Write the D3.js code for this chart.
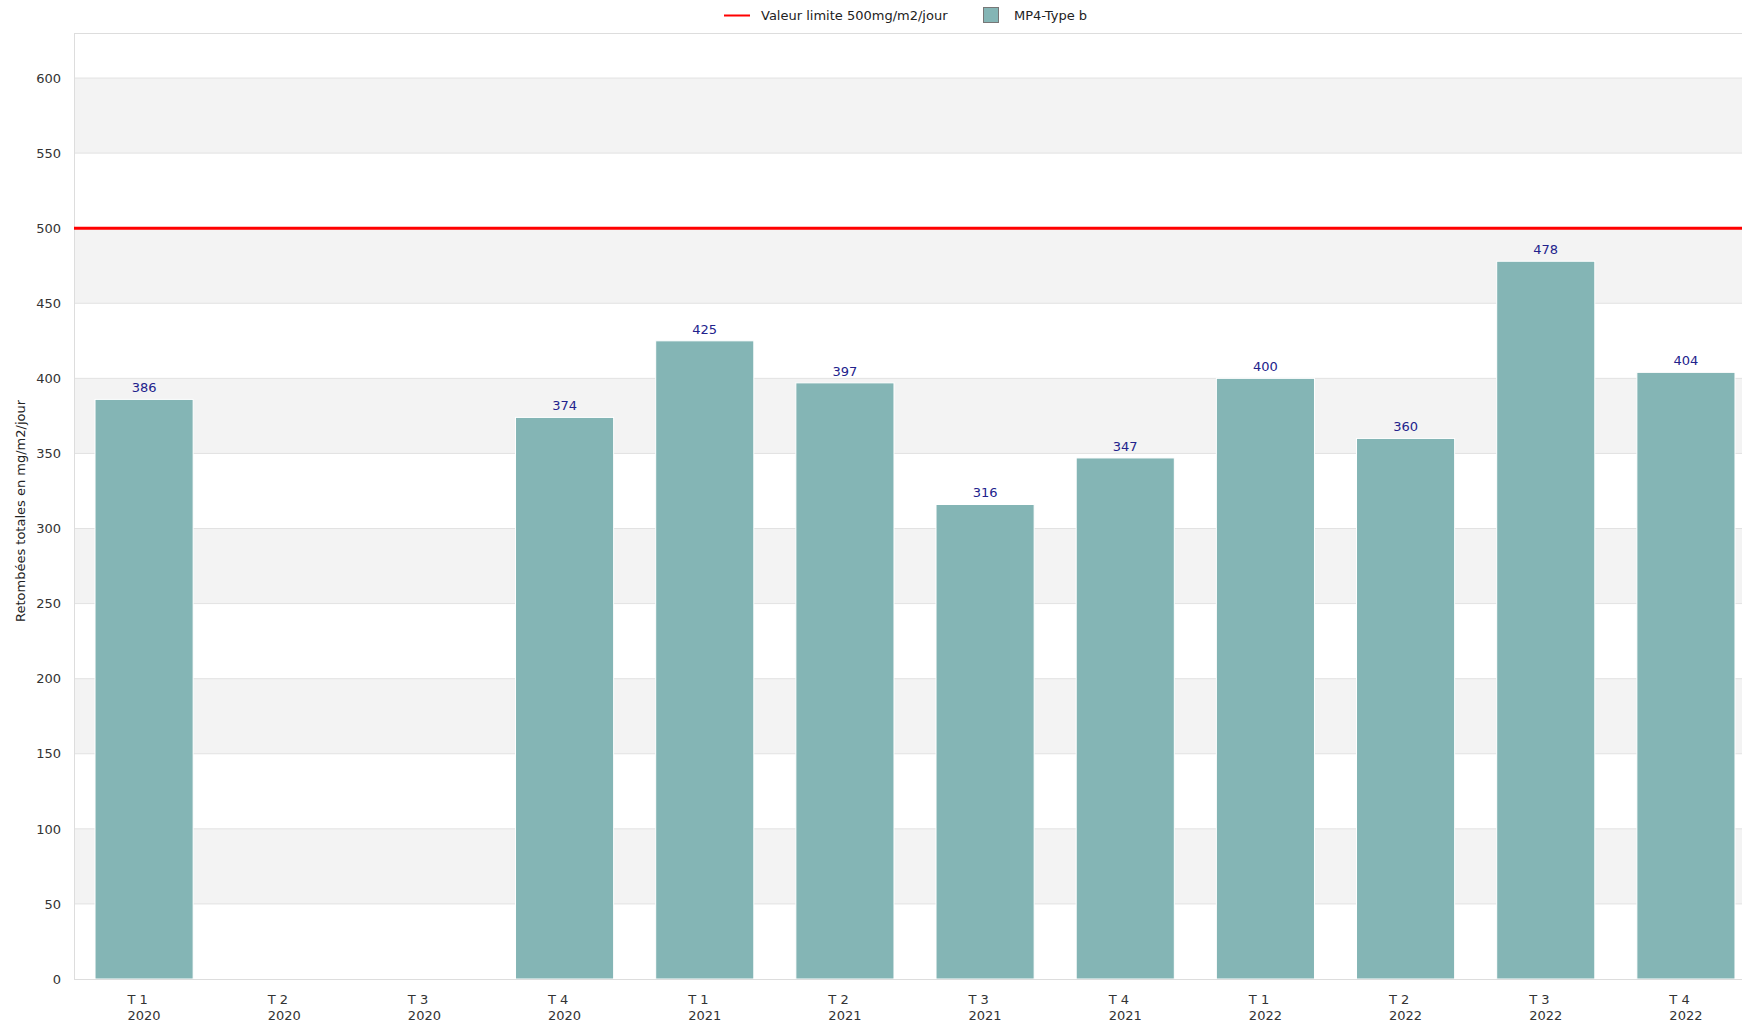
<!DOCTYPE html>
<html>
<head>
<meta charset="utf-8">
<title>Retombées totales</title>
<script src="https://d3js.org/d3.v7.min.js"></script>
<style>
  * { margin: 0; padding: 0; }
  body { background: #fff; font-family: 'DejaVu Sans', sans-serif; }
  svg { display: block; }
</style>
</head>
<body>
<div id="chart"></div>
<script>
// data
const quarters = ["T 1", "T 2", "T 3", "T 4", "T 1", "T 2", "T 3", "T 4", "T 1", "T 2", "T 3", "T 4"];
const years = ["2020", "2020", "2020", "2020", "2021", "2021", "2021", "2021", "2022", "2022", "2022", "2022"];
const mp4Values = [386, null, null, 374, 425, 397, 316, 347, 400, 360, 478, 404];
const limitValue = 500;
const yTicks = [0, 50, 100, 150, 200, 250, 300, 350, 400, 450, 500, 550, 600];
const seriesName = "MP4-Type b";
const limitName = "Valeur limite 500mg/m2/jour";

const W = 1742, H = 1022;
const plotLeft = 74, plotTop = 33, plotBottom = 979;
const plotRight = 1756; // plot runs past the window edge

const keys = quarters.map((q, i) => i);

const svg = d3.select("#chart").append("svg")
  .attr("width", W)
  .attr("height", H);

const x = d3.scaleBand()
  .domain(keys)
  .range([plotLeft, plotRight])
  .paddingInner(0.3)
  .paddingOuter(0.15);

const y = d3.scaleLinear()
  .domain([0, 630])
  .range([plotBottom, plotTop]);

// alternating bands
const bands = d3.range(50, 650, 100); // 50-100, 150-200, ...
svg.append("g").selectAll("rect")
  .data(bands)
  .enter()
  .append("rect")
  .attr("x", plotLeft)
  .attr("width", W - plotLeft)
  .attr("y", d => y(d + 50))
  .attr("height", d => y(d) - y(d + 50))
  .attr("fill", "#f3f3f3");

// grid lines
svg.append("g").selectAll("line")
  .data(yTicks.filter(d => d > 0))
  .enter()
  .append("line")
  .attr("x1", plotLeft)
  .attr("x2", W)
  .attr("y1", d => y(d))
  .attr("y2", d => y(d))
  .attr("stroke", "#e2e2e2")
  .attr("stroke-width", 1);

// frame top + left
svg.append("line")
  .attr("x1", plotLeft).attr("x2", W)
  .attr("y1", plotTop + 0.5).attr("y2", plotTop + 0.5)
  .attr("stroke", "#dddddd");
svg.append("line")
  .attr("x1", plotLeft + 0.5).attr("x2", plotLeft + 0.5)
  .attr("y1", plotTop).attr("y2", plotBottom)
  .attr("stroke", "#dddddd");

// bars
const barData = keys.filter(i => mp4Values[i] != null);
svg.append("g").selectAll("rect")
  .data(barData)
  .enter()
  .append("rect")
  .attr("x", i => x(i))
  .attr("width", x.bandwidth())
  .attr("y", i => y(mp4Values[i]))
  .attr("height", i => y(0) - y(mp4Values[i]))
  .attr("fill", "#84b5b5")
  .attr("stroke", "#ffffff")
  .attr("stroke-width", 1);

// value labels
svg.append("g").selectAll("text")
  .data(barData)
  .enter()
  .append("text")
  .attr("x", i => x(i) + x.bandwidth() / 2)
  .attr("y", i => y(mp4Values[i]) - 7)
  .attr("text-anchor", "middle")
  .attr("font-size", 13)
  .attr("fill", "#22228c")
  .text(i => mp4Values[i]);

// x baseline
svg.append("line")
  .attr("x1", plotLeft).attr("x2", W)
  .attr("y1", y(0) + 0.5).attr("y2", y(0) + 0.5)
  .attr("stroke", "#dddddd");

// limit line
svg.append("line")
  .attr("x1", plotLeft).attr("x2", W)
  .attr("y1", y(limitValue)).attr("y2", y(limitValue))
  .attr("stroke", "#ff0000")
  .attr("stroke-width", 3);

// y axis
const yAxis = d3.axisLeft(y).tickValues(yTicks).tickSize(0).tickPadding(13);
const gy = svg.append("g")
  .attr("transform", "translate(" + plotLeft + ",0)")
  .call(yAxis);
gy.select(".domain").remove();
gy.selectAll("text")
  .attr("font-family", "'DejaVu Sans', sans-serif")
  .attr("font-size", 13)
  .attr("fill", "#333");

// x axis (two line labels, block centred, lines left aligned)
const xAxis = d3.axisBottom(x).tickSize(0).tickFormat("");
const gx = svg.append("g")
  .attr("transform", "translate(0," + y(0) + ")")
  .call(xAxis);
gx.select(".domain").remove();
const lab = gx.selectAll(".tick").append("text")
  .attr("fill", "#333")
  .attr("font-family", "'DejaVu Sans', sans-serif")
  .attr("font-size", 13)
  .attr("text-anchor", "start");
lab.append("tspan").attr("class", "q").attr("y", 25).text(i => quarters[i]);
lab.append("tspan").attr("class", "yr").attr("y", 41).text(i => years[i]);
lab.each(function () {
  const t = d3.select(this);
  const w = Math.max(t.select(".q").node().getComputedTextLength(),
                     t.select(".yr").node().getComputedTextLength());
  t.selectAll("tspan").attr("x", -w / 2);
});

// y title
svg.append("text")
  .attr("transform", "translate(25,511) rotate(-90)")
  .attr("text-anchor", "middle")
  .attr("font-size", 13)
  .attr("fill", "#222")
  .text("Retombées totales en mg/m2/jour");

// legend
const leg = svg.append("g");
leg.append("line")
  .attr("x1", 724).attr("x2", 750)
  .attr("y1", 15.5).attr("y2", 15.5)
  .attr("stroke", "#ff0000")
  .attr("stroke-width", 2);
leg.append("text")
  .attr("x", 761).attr("y", 20)
  .attr("font-size", 13)
  .attr("fill", "#222")
  .text(limitName);
leg.append("rect")
  .attr("x", 983.5).attr("y", 7.5)
  .attr("width", 15).attr("height", 15)
  .attr("fill", "#84b5b5")
  .attr("stroke", "#777")
  .attr("stroke-width", 1);
leg.append("text")
  .attr("x", 1014).attr("y", 20)
  .attr("font-size", 13)
  .attr("fill", "#222")
  .text(seriesName);
</script>
</body>
</html>
